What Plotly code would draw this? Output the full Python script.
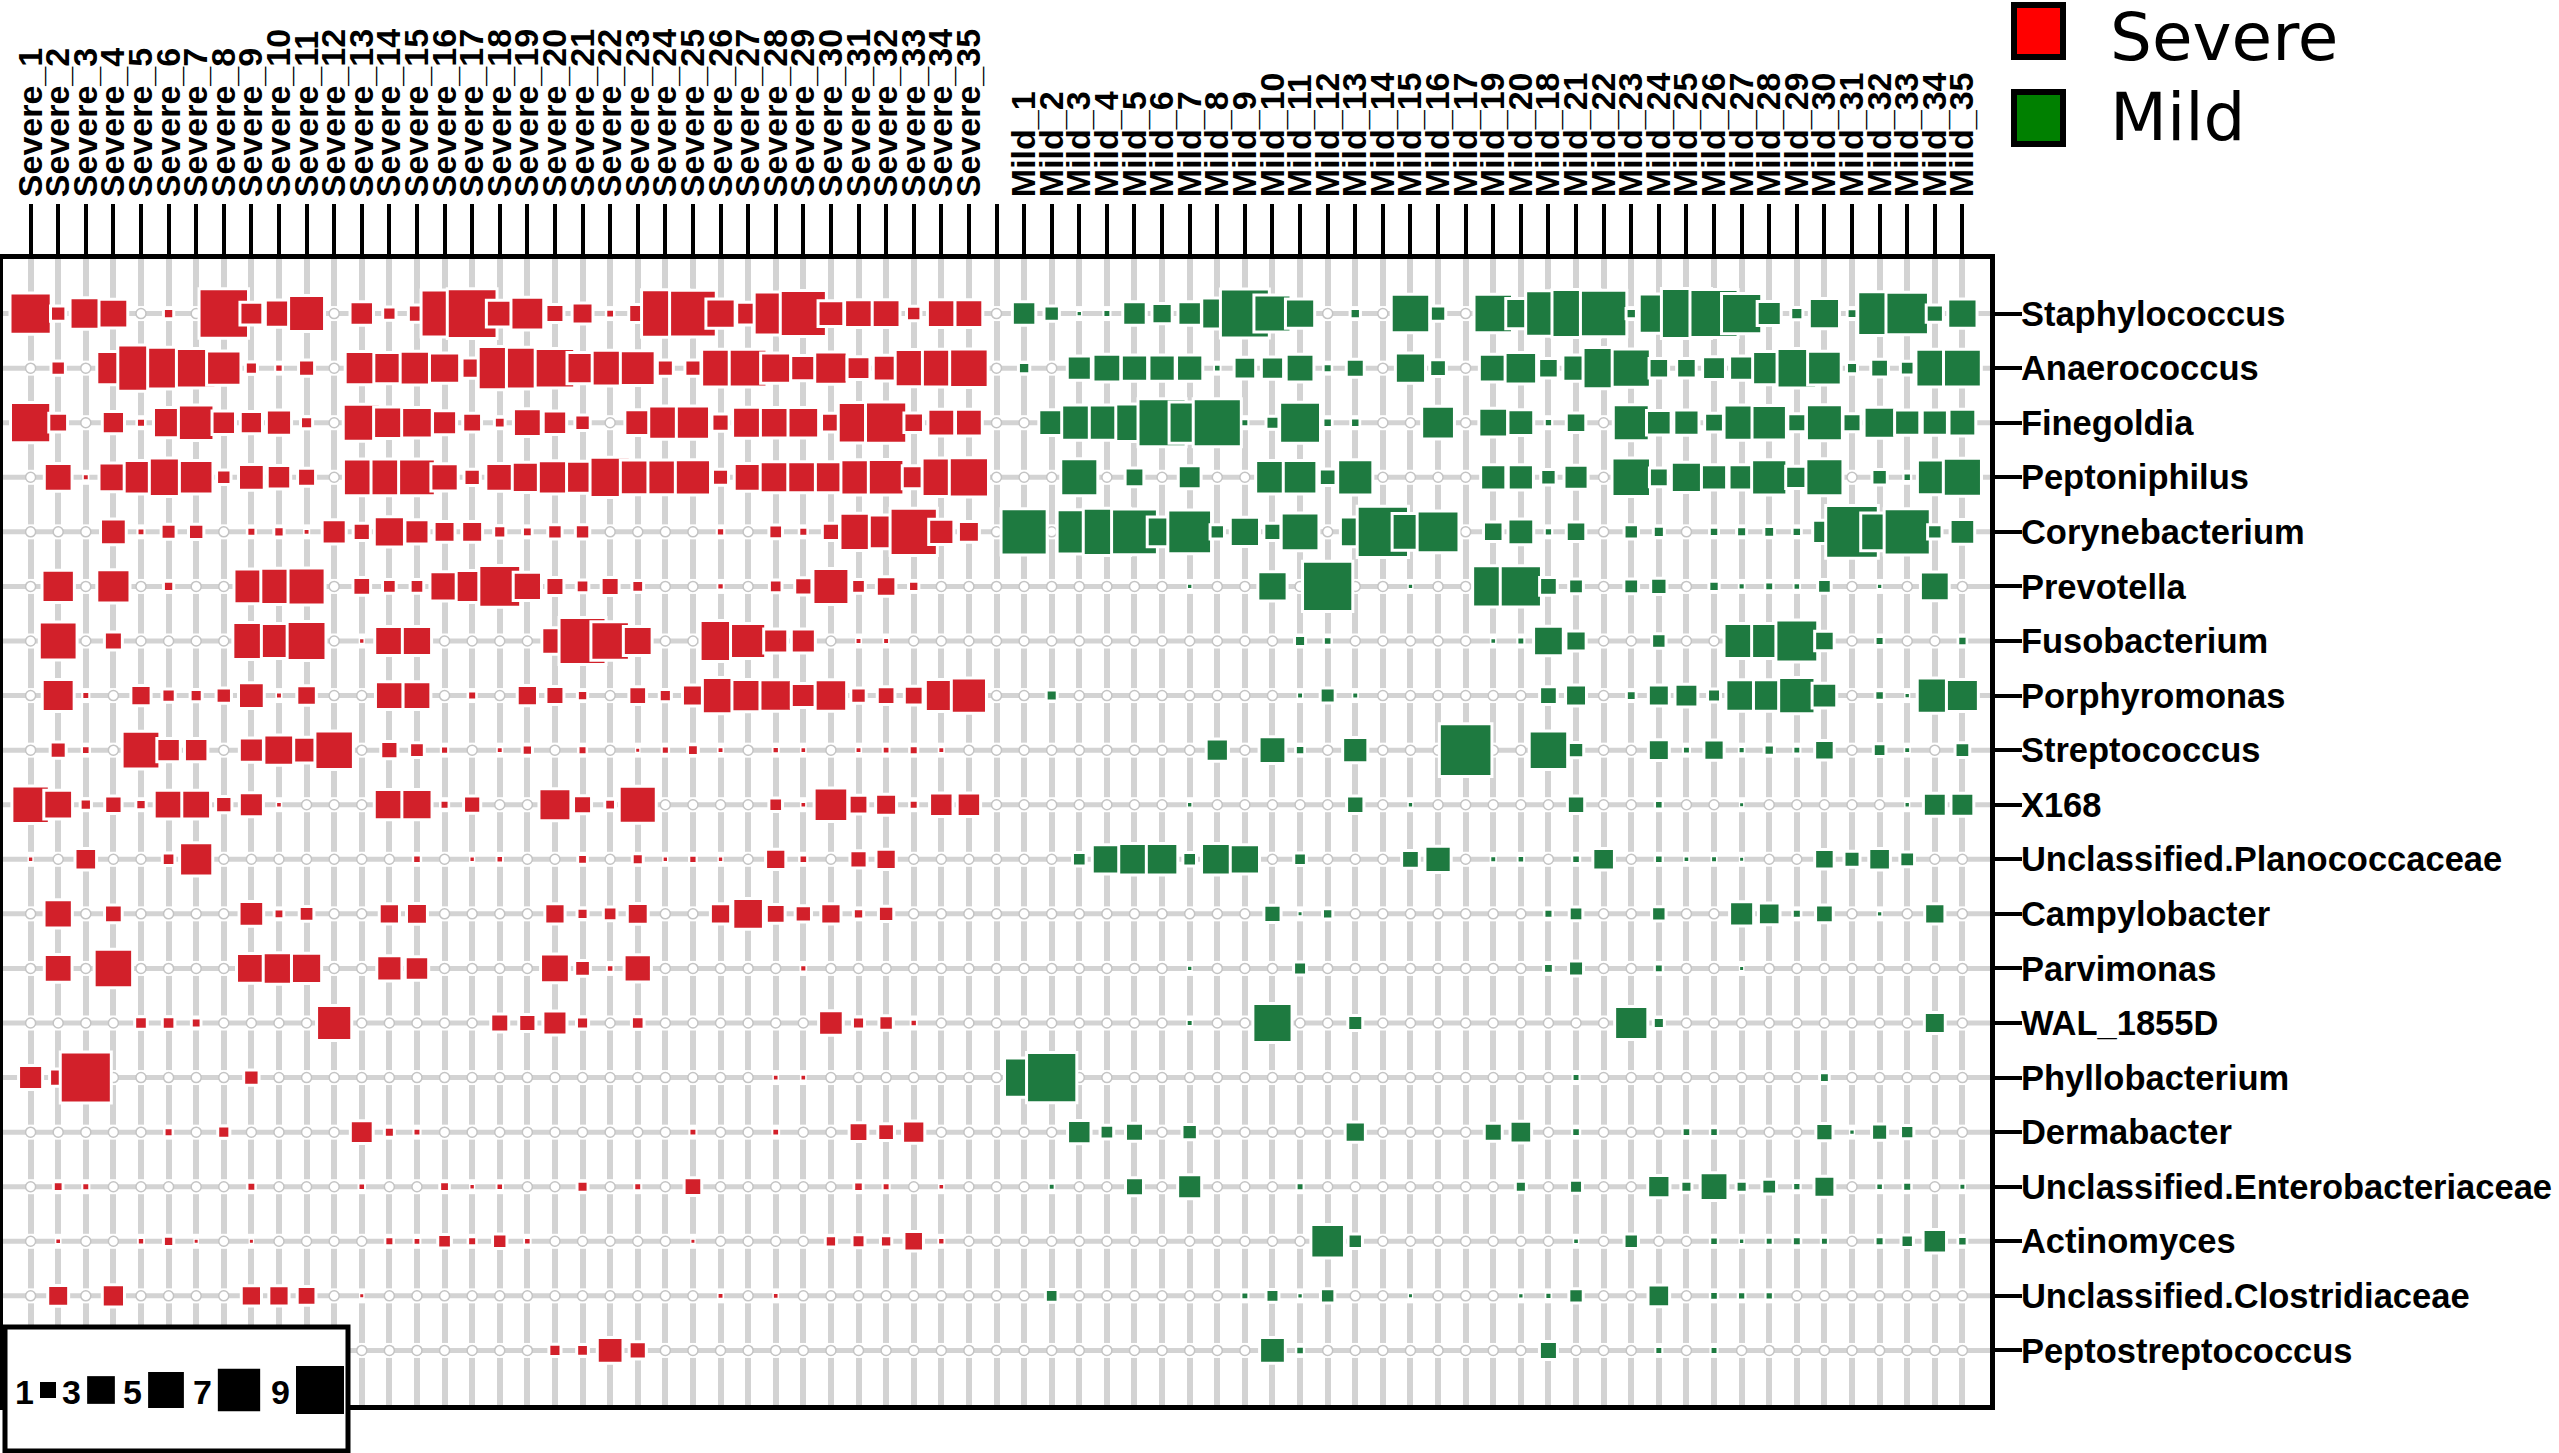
import numpy as np
import plotly.graph_objects as go

# ---- data -------------------------------------------------------------
species = ["Staphylococcus", "Anaerococcus", "Finegoldia", "Peptoniphilus",
           "Corynebacterium", "Prevotella", "Fusobacterium", "Porphyromonas",
           "Streptococcus", "X168", "Unclassified.Planococcaceae", "Campylobacter",
           "Parvimonas", "WAL_1855D", "Phyllobacterium", "Dermabacter",
           "Unclassified.Enterobacteriaceae", "Actinomyces",
           "Unclassified.Clostridiaceae", "Peptostreptococcus"]

severe_ids = list(range(1, 36))
mild_ids = list(range(1, 18)) + [19, 20, 18] + list(range(21, 36))

legend_values = [1, 3, 5, 7, 9]

# one list per taxon, 35 samples each (Severe_1..35)
sev_staph = [6, 0.7, 3.4, 2.8, 0, 0.27, 0, 8.8, 1.7, 2.5, 4.5, 0, 1.8, 0.5, 0.9, 7.9, 8.9, 2.4, 3.7, 1, 1.4, 0.15, 1, 8.1, 7.8, 2.9, 1.7, 6.6, 7.6, 2.2, 2.6, 2.6, 0.6, 2.6, 2.6]
sev_anaero = [0, 0.6, 0, 3.8, 7.7, 6.2, 5.5, 4.1, 0.4, 0.13, 0.77, 0, 3.8, 3.3, 3.9, 3.1, 1.3, 6.6, 6.2, 5.5, 3.3, 4.5, 4.2, 0.77, 0.77, 5, 5, 3.1, 2.1, 3.6, 1.7, 2.2, 4.8, 5, 5.2]
sev_finegoldia = [5.7, 1.1, 0, 1.6, 0.17, 3.1, 4.4, 1.8, 1.6, 2.1, 0.4, 0, 4.8, 3.4, 3.2, 1.9, 1.1, 0.3, 2.6, 1.8, 0.7, 0, 2.2, 3.8, 3.8, 0.9, 3.3, 3.2, 3.2, 1.1, 5.8, 6, 1.2, 2.4, 2.4]
sev_peptoniphilus = [0, 2.6, 0.05, 2.8, 3.9, 5.2, 3.9, 0.6, 2.2, 1.8, 1, 0, 4.7, 4.7, 4.7, 2.5, 0.8, 2.6, 3.1, 3.8, 3.5, 5.7, 4.2, 4.2, 4.3, 0.77, 2.6, 3.3, 3.3, 3.3, 4.3, 4.4, 1.7, 5.2, 5.4]
sev_coryne = [0, 0, 0, 2.2, 0.1, 0.66, 0.7, 0, 0.17, 0.27, 0.05, 1.9, 0.9, 3.1, 1.9, 1.4, 1.4, 0.4, 0.23, 0.6, 0.6, 0, 0, 0, 0, 0.12, 0, 0.53, 0.17, 0.9, 4.8, 3.9, 8, 2.1, 1.4]
sev_prevotella = [0, 3.6, 0, 3.8, 0, 0.27, 0, 0, 4.2, 4.6, 4.8, 0, 0.96, 0.53, 0.53, 2.9, 3.5, 6.2, 2.7, 1, 0.44, 1, 0.37, 0, 0, 0.07, 0, 0.44, 0.9, 4.5, 0.53, 1.2, 0.27, 0, 0]
sev_fuso = [0, 5, 0, 1, 0, 0, 0, 0, 4.8, 4.3, 5.3, 0, 0.03, 2.9, 2.9, 0, 0, 0, 0, 2.3, 7.9, 5.2, 2.8, 0, 0, 5.9, 4.3, 1.9, 1.9, 0, 0.05, 0.05, 0, 0, 0]
sev_porph = [0, 3.5, 0.1, 0, 1.3, 0.5, 0.4, 0.7, 2.2, 0.05, 1.2, 0, 0, 2.6, 2.6, 0, 0.17, 0, 1.3, 1, 0.27, 0, 0.96, 0.4, 1.4, 4.6, 3.6, 3.4, 1.9, 3.4, 0.7, 0.96, 1.1, 3.5, 4.3]
sev_strep = [0, 0.77, 0.14, 0, 5, 1.8, 1.8, 0, 1.9, 3.1, 2.2, 5.2, 0, 0.9, 0.63, 0.11, 0, 0.05, 0.27, 0, 0.17, 0, 0.02, 0.11, 0.3, 0.05, 0, 0.07, 0.04, 0, 0.05, 0.09, 0.17, 0.05, 0]
sev_x168 = [4.9, 2.8, 0.34, 0.92, 0.27, 2.8, 2.8, 0.8, 1.9, 0.04, 0, 0, 0, 3.1, 3.1, 0.17, 0.9, 0, 0, 3.5, 1, 0.3, 4.8, 0, 0, 0, 0, 0.53, 0.04, 3.9, 1.1, 1.4, 0.17, 1.8, 1.8]
sev_planococc = [0.03, 0, 1.5, 0, 0, 0.44, 3.8, 0, 0, 0, 0, 0, 0, 0, 0.14, 0, 0.03, 0.08, 0, 0, 0.23, 0, 0.32, 0.03, 0.12, 0.03, 0, 1.3, 0.14, 0, 0.9, 1.3, 0, 0, 0]
sev_campylo = [0, 2.7, 0, 0.96, 0, 0, 0, 0, 2, 0.23, 0.63, 0, 0, 1.3, 1.4, 0, 0, 0, 0, 1.3, 0.32, 0.53, 1.4, 0, 0, 1.3, 3.2, 1.1, 0.8, 1.3, 0.27, 0.7, 0, 0, 0]
sev_parvimonas = [0, 2.6, 0, 5.2, 0, 0, 0, 0, 3, 3.4, 3.1, 0, 0, 2.1, 1.8, 0, 0, 0, 0, 2.8, 0.73, 0.08, 2.5, 0, 0, 0, 0, 0, 0.06, 0, 0, 0, 0, 0, 0]
sev_wal = [0, 0, 0, 0, 0.44, 0.44, 0.23, 0, 0, 0, 0, 4.3, 0, 0, 0, 0, 0, 1, 0.9, 1.9, 0.4, 0, 0.44, 0, 0, 0, 0, 0, 0, 2, 0.4, 0.6, 0.07, 0, 0]
sev_phyllo = [1.9, 0.9, 9.4, 0, 0, 0, 0, 0, 0.7, 0, 0, 0, 0, 0, 0, 0, 0, 0, 0, 0, 0, 0, 0, 0, 0, 0, 0, 0.04, 0.04, 0, 0, 0, 0, 0, 0]
sev_dermabacter = [0, 0, 0, 0, 0, 0.17, 0, 0.4, 0, 0, 0, 0, 1.7, 0.25, 0.1, 0, 0, 0, 0, 0, 0, 0, 0, 0, 0.1, 0, 0, 0.09, 0, 0, 1.1, 0.84, 1.6, 0, 0]
sev_entero = [0, 0.23, 0.1, 0, 0, 0, 0, 0, 0.16, 0, 0, 0, 0.08, 0, 0, 0.23, 0.03, 0.08, 0, 0, 0.32, 0, 0.1, 0, 0.96, 0, 0, 0, 0, 0, 0.21, 0.1, 0, 0.04, 0]
sev_actino = [0, 0.04, 0, 0, 0.07, 0.27, 0.02, 0, 0.02, 0, 0, 0, 0, 0.17, 0.09, 0.53, 0.17, 0.6, 0.08, 0, 0, 0, 0, 0, 0.02, 0, 0, 0, 0, 0.34, 0.47, 0.34, 1.2, 0.07, 0]
sev_clostr = [0, 1.4, 0, 1.6, 0, 0, 0, 0, 1.3, 1.3, 1.1, 0, 0.02, 0, 0, 0, 0, 0, 0, 0, 0, 0, 0, 0, 0, 0.05, 0, 0.04, 0, 0, 0, 0, 0, 0, 0]
sev_peptostrep = [0, 0, 0, 0, 0, 0, 0, 0, 0, 0, 0, 0, 0, 0, 0, 0, 0, 0, 0, 0.4, 0.37, 2.2, 0.9, 0, 0, 0, 0, 0, 0, 0, 0, 0, 0, 0, 0]

# 35 samples each, in the plotted order of mild_ids
mild_staph = [1.8, 0.7, 0.03, 0.1, 1.8, 1.3, 1.8, 3.3, 8.6, 4.8, 2.9, 0, 0.27, 0, 5.2, 0.7, 0, 5.2, 3.1, 7.4, 8.3, 7.7, 0.27, 5.4, 9, 8.3, 5.7, 1.9, 0.4, 3.1, 0.23, 6.8, 6.4, 0.9, 2.9]
mild_anaero = [0.34, 0, 1.9, 2.6, 2.3, 2.3, 2.3, 0.08, 1.5, 1.6, 2.6, 0.17, 1, 0, 3.1, 0.84, 0, 2.6, 3.4, 1.2, 2.3, 6, 5.1, 1.2, 1.2, 1.7, 1.9, 3.8, 5.5, 3.9, 0.32, 0.96, 0.53, 5, 5]
mild_finegoldia = [0, 2.2, 4.3, 4.3, 4.9, 8.3, 6, 8.3, 0.1, 0.47, 5.9, 0.2, 0.2, 0, 0, 3.7, 0, 2.8, 2.2, 0.12, 1.2, 0, 4.5, 2, 2.1, 1.1, 4.3, 4.1, 1, 4.5, 1, 3.3, 2.1, 2.1, 2.4]
mild_peptoniphilus = [0, 0, 4.8, 0, 1.1, 0, 1.7, 0, 0, 3.9, 3.9, 0.84, 4.3, 0, 0, 0, 0, 2.1, 2.1, 0.7, 1.9, 0, 5.2, 1.1, 3.1, 2.1, 2.1, 4.3, 1.6, 4.8, 0, 0.7, 0.13, 4.2, 5.1]
mild_coryne = [7.6, 0, 7, 8, 7.5, 3, 6.8, 0.6, 2.9, 0.9, 5, 0, 3, 9.5, 4.7, 6.2, 0, 1.2, 2.2, 0.12, 1.2, 0, 0.6, 0.32, 0, 0.2, 0.25, 0.3, 0.2, 1.8, 10, 5, 7.6, 0.6, 2]
mild_prevotella = [0, 0, 0, 0, 0, 0, 0.03, 0, 0, 2.9, 0, 9.1, 0, 0, 0.03, 0, 0, 6, 6, 0.96, 0.63, 0, 0.63, 0.8, 0, 0.27, 0.06, 0.16, 0.08, 0.53, 0, 0.03, 0, 2.8, 0]
mild_fuso = [0, 0, 0, 0, 0, 0, 0, 0, 0, 0, 0.32, 0.14, 0, 0, 0, 0, 0, 0.04, 0.1, 3, 1.3, 0, 0, 0.6, 0, 0, 4.3, 4.3, 6.2, 1.2, 0, 0.17, 0, 0, 0.19]
mild_porph = [0, 0.32, 0, 0, 0, 0, 0, 0, 0, 0, 0.05, 0.66, 0.05, 0, 0, 0, 0, 0, 0, 0.96, 1.4, 0, 0.23, 1.4, 1.7, 0.47, 3.4, 3.4, 4.6, 2, 0, 0.2, 0.03, 4.3, 3.5]
mild_strep = [0, 0, 0, 0, 0, 0, 0, 1.6, 0, 2.4, 0.2, 0, 2.1, 0, 0, 0, 10, 0, 0, 5.2, 0.7, 0, 0, 1.4, 0.1, 1.3, 0.06, 0.27, 0.1, 1.2, 0, 0.44, 0.05, 0, 0.63]
mild_x168 = [0, 0, 0, 0, 0, 0, 0.03, 0, 0, 0, 0, 0, 0.92, 0, 0.03, 0, 0, 0, 0, 0, 0.92, 0, 0, 0.14, 0, 0, 0.02, 0, 0, 0, 0, 0, 0.03, 1.7, 1.7]
mild_planococc = [0, 0, 0.53, 2.9, 3.4, 3.4, 0.53, 3.4, 2.9, 0, 0.44, 0, 0, 0, 0.96, 2.3, 0, 0.05, 0.08, 0, 0.14, 1.5, 0, 0.14, 0.04, 0.05, 0.02, 0, 0, 1.2, 0.77, 1.5, 0.63, 0, 0]
mild_campylo = [0, 0, 0, 0, 0, 0, 0, 0, 0, 0.9, 0.02, 0.27, 0, 0, 0, 0, 0, 0, 0, 0.17, 0.53, 0, 0, 0.6, 0, 0, 1.9, 1.5, 0.17, 0.96, 0, 0.03, 0, 1.3, 0]
mild_parvimonas = [0, 0, 0, 0, 0, 0, 0.03, 0, 0, 0, 0.47, 0, 0, 0, 0, 0, 0, 0, 0, 0.23, 0.66, 0, 0, 0.16, 0, 0, 0.02, 0, 0, 0, 0, 0, 0, 0, 0]
mild_wal = [0, 0, 0, 0, 0, 0, 0.05, 0, 0, 5.4, 0, 0, 0.66, 0, 0, 0, 0, 0, 0, 0, 0, 0, 3.8, 0.32, 0, 0, 0, 0, 0, 0, 0, 0, 0, 1.4, 0]
mild_phyllo = [5.4, 9.1, 0, 0, 0, 0, 0, 0, 0, 0, 0, 0, 0, 0, 0, 0, 0, 0, 0, 0, 0.1, 0, 0, 0, 0, 0, 0, 0, 0, 0.23, 0, 0, 0, 0, 0]
mild_dermabacter = [0, 0, 1.8, 0.53, 1, 0, 0.7, 0, 0, 0, 0, 0, 1.3, 0, 0, 0, 0, 1, 1.5, 0, 0.14, 0, 0, 0, 0.14, 0.14, 0, 0, 0, 0.9, 0.03, 0.77, 0.5, 0, 0]
mild_entero = [0, 0.05, 0, 0, 1, 0, 1.9, 0, 0, 0, 0.1, 0, 0, 0, 0, 0, 0, 0, 0.32, 0, 0.47, 0, 0, 1.6, 0.32, 2.6, 0.32, 0.63, 0.12, 1.4, 0, 0.08, 0.17, 0, 0.05]
mild_actino = [0, 0, 0, 0, 0, 0, 0, 0, 0, 0, 0, 3.9, 0.6, 0, 0, 0, 0, 0, 0, 0, 0.04, 0, 0.6, 0, 0, 0.14, 0.03, 0.1, 0.16, 0.1, 0, 0.17, 0.42, 1.8, 0.2]
mild_clostr = [0, 0.44, 0, 0, 0, 0, 0, 0, 0.1, 0.47, 0.03, 0.6, 0, 0, 0.02, 0, 0, 0, 0.03, 0.06, 0.6, 0, 0, 1.5, 0, 0.14, 0.12, 0.12, 0, 0, 0, 0, 0, 0, 0]
mild_peptostrep = [0, 0, 0, 0, 0, 0, 0, 0, 0, 2.2, 0.14, 0, 0, 0, 0, 0, 0, 0, 0, 1, 0, 0, 0, 0.1, 0, 0.1, 0, 0, 0, 0, 0, 0, 0, 0, 0]

severe = np.array([sev_staph, sev_anaero, sev_finegoldia, sev_peptoniphilus, sev_coryne,
                   sev_prevotella, sev_fuso, sev_porph, sev_strep, sev_x168,
                   sev_planococc, sev_campylo, sev_parvimonas, sev_wal, sev_phyllo,
                   sev_dermabacter, sev_entero, sev_actino, sev_clostr, sev_peptostrep])
mild = np.array([mild_staph, mild_anaero, mild_finegoldia, mild_peptoniphilus, mild_coryne,
                 mild_prevotella, mild_fuso, mild_porph, mild_strep, mild_x168,
                 mild_planococc, mild_campylo, mild_parvimonas, mild_wal, mild_phyllo,
                 mild_dermabacter, mild_entero, mild_actino, mild_clostr, mild_peptostrep])

# ---- geometry / style ---------------------------------------------------
W, H = 2559, 1453
X0, X1 = 3, 1990      # plot box, px
Y0, Y1 = 259, 1405
RED, GREEN = "#d2202a", "#1e7a40"
GRID = "#d3d3d3"

n_sev = len(severe_ids)
x_labels = [f"Severe_{i}" for i in severe_ids] + [""] + [f"Mild_{i}" for i in mild_ids]
n_col = len(x_labels)
n_row = len(species)


def side(v):
    return 16 * np.sqrt(v)


def squares(mat, offset):
    xs, ys, sz, lw = [], [], [], []
    for r in range(mat.shape[0]):
        for c in range(mat.shape[1]):
            v = mat[r, c]
            if v > 0:
                s = side(v) + 2
                xs.append(c + offset)
                ys.append(r)
                sz.append(s)
                lw.append(min(3, s * 0.3))
    return xs, ys, sz, lw


fig = go.Figure()

# white masks break the vertical grid lines at every row
cx = [c for r in range(n_row) for c in range(n_col)]
cy = [r for r in range(n_row) for c in range(n_col)]
fig.add_trace(go.Scatter(x=cx, y=cy, mode="markers", hoverinfo="skip",
                         marker=dict(symbol="square", size=15, color="white", opacity=1,
                                     line=dict(width=0))))

# horizontal row lines
hx, hy = [], []
for r in range(n_row):
    hx += [-1, n_col, None]
    hy += [r, r, None]
fig.add_trace(go.Scatter(x=hx, y=hy, mode="lines", hoverinfo="skip",
                         line=dict(color=GRID, width=5)))

# empty cells get a small open circle
full = np.hstack([severe, np.zeros((n_row, 1)), mild])
ex = [c for r in range(n_row) for c in range(n_col) if full[r, c] == 0]
ey = [r for r in range(n_row) for c in range(n_col) if full[r, c] == 0]
fig.add_trace(go.Scatter(x=ex, y=ey, mode="markers", hoverinfo="skip",
                         marker=dict(symbol="circle", size=10, color="white", opacity=1,
                                     line=dict(color="#c4c4c4", width=1.5))))

for mat, off, col in [(severe, 0, RED), (mild, n_sev + 1, GREEN)]:
    xs, ys, sz, lw = squares(mat, off)
    fig.add_trace(go.Scatter(x=xs, y=ys, mode="markers",
                             marker=dict(symbol="square", size=sz, color=col, opacity=1,
                                         line=dict(color="white", width=lw))))

fig.update_layout(
    width=W, height=H,
    margin=dict(l=0, r=0, t=0, b=0),
    paper_bgcolor="white", plot_bgcolor="white",
    showlegend=False,
    xaxis=dict(domain=[X0 / W, X1 / W], range=[-1, n_col], side="top",
               tickmode="array", tickvals=list(range(n_col)), ticktext=x_labels,
               tickangle=-90, ticks="outside", ticklen=50, tickwidth=4, tickcolor="black",
               showline=True, linecolor="black", linewidth=5, mirror=True,
               showgrid=True, gridcolor=GRID, gridwidth=6, zeroline=False,
               automargin=False, fixedrange=True,
               tickfont=dict(family="Liberation Sans", size=34, color="black", weight="bold")),
    yaxis=dict(domain=[1 - Y1 / H, 1 - Y0 / H], range=[n_row, -1], side="right",
               tickmode="array", tickvals=list(range(n_row)), ticktext=species,
               ticks="outside", ticklen=27, tickwidth=4, tickcolor="black",
               ticklabelstandoff=-8,
               showline=True, linecolor="black", linewidth=5, mirror=True,
               showgrid=False, zeroline=False, automargin=False, fixedrange=True,
               tickfont=dict(family="Liberation Sans", size=34.5, color="black", weight="bold")),
)


def px(x):
    return x / W


def py(y):
    return 1 - y / H


shapes = []
annotations = []

# group legend, top right
for (label, fill, top, ty) in [("Severe", "#ff0000", 5, 38), ("Mild", "#008000", 92, 118)]:
    shapes.append(dict(type="rect", xref="paper", yref="paper", layer="above",
                       x0=px(2014), x1=px(2063), y0=py(top), y1=py(top + 52),
                       fillcolor=fill, line=dict(color="black", width=6)))
    annotations.append(dict(text=label, xref="paper", yref="paper", showarrow=False,
                            x=px(2108), y=py(ty), xanchor="left", yanchor="middle",
                            font=dict(family="DejaVu Sans", size=66, color="black")))

# size legend, bottom left
shapes.append(dict(type="rect", xref="paper", yref="paper", layer="above",
                   x0=px(5), x1=px(348), y0=py(1327), y1=py(1451),
                   fillcolor="white", line=dict(color="black", width=5)))
legend_cx = [48, 101, 166, 239, 320]
for v, c in zip(legend_values, legend_cx):
    s = side(v)
    shapes.append(dict(type="rect", xref="paper", yref="paper", layer="above",
                       x0=px(c - s / 2), x1=px(c + s / 2), y0=py(1390 - s / 2), y1=py(1390 + s / 2),
                       fillcolor="black", line=dict(width=0)))
    annotations.append(dict(text=str(v), xref="paper", yref="paper", showarrow=False,
                            x=px(c - s / 2 - 4), y=py(1392), xanchor="right", yanchor="middle",
                            font=dict(family="Liberation Sans", size=34, color="black", weight="bold")))

fig.update_layout(shapes=shapes, annotations=annotations)

fig.write_html("out.html", config={"displayModeBar": False},
               post_script="document.body.style.margin='0px';")
